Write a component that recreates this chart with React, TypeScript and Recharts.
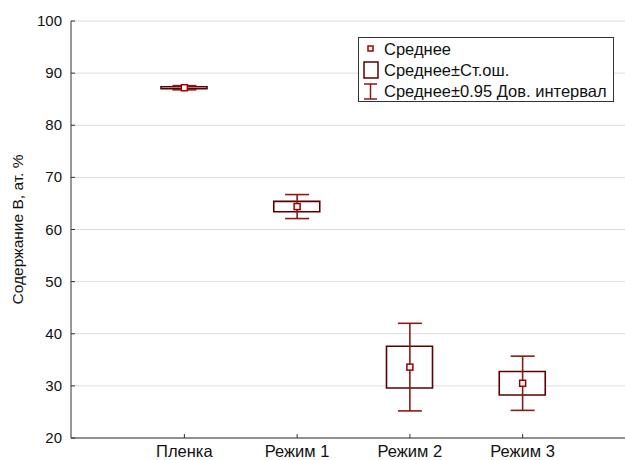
import {
  ComposedChart,
  Bar,
  Line,
  ErrorBar,
  XAxis,
  YAxis,
  CartesianGrid
} from 'recharts';

const categories = ['Пленка', 'Режим 1', 'Режим 2', 'Режим 3'];
const means = [87.2, 64.4, 33.6, 30.5];
const stdErrors = [0.2, 1.0, 4.0, 2.25];
const conf95 = [0.4, 2.3, 8.4, 5.2];
const yTicks = [20, 30, 40, 50, 60, 70, 80, 90, 100];

const data = categories.map((name, i) => ({
  name,
  mean: means[i],
  se: [means[i] - stdErrors[i], means[i] + stdErrors[i]],
  ci: conf95[i]
}));

const font = '"Liberation Sans", Arial, sans-serif';
const boxColor = '#5a0000';
const whiskerColor = '#8b1a1a';
const meanColor = '#9b0000';

const XTick = ({ x, y, payload }: any) => (
  <g>
    <line x1={x} x2={x} y1={y} y2={y - 4} stroke="#333" />
    <text x={x} y={y + 19} textAnchor="middle" fontSize={16.5} fill="#111" fontFamily={font}>
      {payload.value}
    </text>
  </g>
);

const YTick = ({ x, y, payload }: any) => (
  <g>
    <line x1={x} x2={x + 4} y1={y} y2={y} stroke="#333" />
    <text x={x - 9} y={y + 5} textAnchor="end" fontSize={15} fill="#111" fontFamily={font}>
      {payload.value}
    </text>
  </g>
);

const MeanDot = ({ cx, cy }: any) => (
  <rect x={cx - 3} y={cy - 3} width={6} height={6} fill="#fff" stroke={meanColor} strokeWidth={1.5} />
);

const ChartLegend = () => (
  <div
    style={{
      position: 'absolute',
      left: 358,
      top: 37,
      width: 254,
      height: 63,
      border: '1px solid #333',
      background: '#fff',
      fontFamily: font,
      fontSize: 16.5,
      color: '#111'
    }}
  >
    <svg width={24} height={63} style={{ position: 'absolute', left: 0, top: 0 }}>
      <rect x={9} y={8} width={5} height={5} fill="#fff" stroke={meanColor} strokeWidth={1.5} />
      <rect x={5} y={24} width={14} height={16} fill="#fff" stroke={boxColor} strokeWidth={1.5} />
      <line x1={5} x2={18} y1={46} y2={46} stroke={whiskerColor} strokeWidth={1.5} />
      <line x1={11.5} x2={11.5} y1={46} y2={61} stroke={whiskerColor} strokeWidth={1.5} />
      <line x1={5} x2={18} y1={61} y2={61} stroke={whiskerColor} strokeWidth={1.5} />
    </svg>
    <div style={{ position: 'absolute', left: 25, top: 1, lineHeight: '21px' }}>
      <div>Среднее</div>
      <div>Среднее±Ст.ош.</div>
      <div>Среднее±0.95 Дов. интервал</div>
    </div>
  </div>
);

export default function App() {
  return (
    <div style={{ position: 'absolute', left: 0, top: 0, width: 625, height: 460, background: '#fff' }}>
      <ComposedChart
        width={625}
        height={460}
        data={data}
        margin={{ top: 21, right: 0, bottom: 0, left: 0 }}
      >
        <CartesianGrid vertical={false} stroke="#dcdcdc" />
        <XAxis
          dataKey="name"
          height={22}
          padding={{ left: 57, right: 46 }}
          axisLine={{ stroke: '#333' }}
          tickLine={false}
          tickSize={0}
          tickMargin={0}
          tick={<XTick />}
          interval={0}
        />
        <YAxis
          width={71}
          domain={[20, 100]}
          ticks={yTicks}
          axisLine={{ stroke: '#333' }}
          tickLine={false}
          tickSize={0}
          tickMargin={0}
          tick={<YTick />}
          label={{
            value: 'Содержание B, ат. %',
            angle: -90,
            position: 'center',
            dx: -18,
            style: { fontSize: 15.5, fill: '#111', fontFamily: font }
          }}
        />
        <Line
          dataKey="mean"
          stroke="none"
          dot={false}
          activeDot={false}
          isAnimationActive={false}
        >
          <ErrorBar
            dataKey="ci"
            direction="y"
            width={12}
            stroke={whiskerColor}
            strokeWidth={1.6}
            isAnimationActive={false}
          />
        </Line>
        <Bar
          dataKey="se"
          barSize={46}
          fill="#fff"
          stroke={boxColor}
          strokeWidth={1.6}
          isAnimationActive={false}
        />
        <Line
          dataKey="mean"
          stroke="none"
          dot={<MeanDot />}
          activeDot={false}
          isAnimationActive={false}
        />
      </ComposedChart>
      <ChartLegend />
    </div>
  );
}
